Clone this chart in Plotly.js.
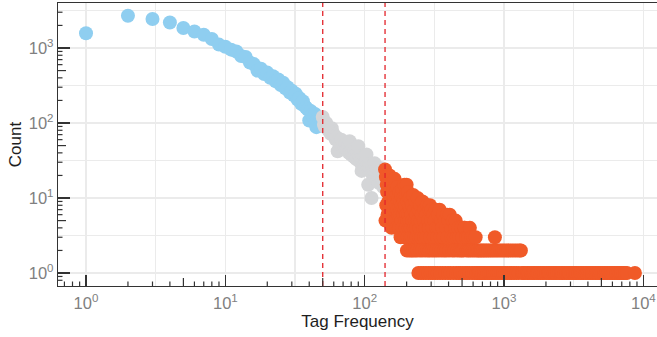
<!DOCTYPE html>
<html><head><meta charset="utf-8">
<script src="https://cdn.plot.ly/plotly-3.0.1.min.js"></script>
<style>html,body{margin:0;padding:0;background:#fff}#chart{width:657px;height:337px}</style>
</head><body><div id="chart"></div>
<script>
// Low-frequency tags (blue)
const lowX = [1,2,3,4,5,6,7,8,9,10,11,12,13,14,15,16,17,18,19,20,21,22,23,24,25,26,27,28,29,30,31,32,33,34,35,36,37,38,39,40,41,42,43,44,45,46,47,48,49];
const lowY = [1570,2690,2440,2190,1850,1660,1500,1320,1110,1040,950,900,780,760,640,610,500,530,450,470,400,420,360,380,320,345,290,300,255,270,235,245,205,215,180,195,170,160,152,108,145,128,118,132,88,112,100,92,106];
// Mid-frequency tags (grey)
const midX = [50,51,52,53,54,55,56,57,58,59,60,61,62,63,64,65,66,67,68,69,70,71,72,73,74,75,76,77,78,79,80,81,82,83,84,85,86,87,88,89,90,91,92,93,94,95,96,97,98,99,100,101,102,103,104,105,106,107,108,109,110,111,112,113,114,115,116,117,118,119,120,121,122,123,124,125,126,127,128,129,130,131,132,133,134,135,136,137,138,139];
const midY = [120,95,88,100,85,80,78,72,85,74,70,66,60,64,42,58,55,52,60,50,54,48,46,52,45,44,50,40,57,42,38,44,40,36,42,35,38,33,40,34,49,32,36,30,34,23,33,29,31,28,35,27,30,38,26,28,15,25,27,24,26,22,10,24,21,23,20,22,29,19,21,18,24,19,17,20,16,22,18,17,19,16,25,17,15,18,14,16,20,15];
// High-frequency tags (orange)
const highX = [140,141,142,143,144,145,146,147,148,149,150,151,152,153,154,155,156,157,158,159,160,161,162,163,164,165,166,167,168,169,170,171,172,173,174,175,176,177,178,179,180,181,182,183,184,185,186,187,188,189,190,191,192,193,194,195,196,197,198,199,200,
201,202,203,204,205,206,207,208,209,210,211,212,213,214,215,216,217,218,219,220,222,223,225,226,228,229,230,232,233,235,236,238,240,241,243,244,246,247,249,250,252,254,255,257,259,260,262,264,266,267,269,271,273,275,277,279,281,283,285,287,289,291,293,294,296,298,300,302,305,307,309,311,314,316,318,321,323,326,328,331,334,336,339,342,345,348,351,354,357,360,363,366,369,372,376,379,383,386,390,393,397,400,404,408,412,416,420,
425,429,433,437,441,446,450,454,459,463,468,472,477,482,487,492,497,502,507,512,517,523,528,534,540,546,552,558,565,569,576,583,590,597,604,611,618,626,633,641,649,657,665,674,683,692,701,710,720,730,740,751,762,773,785,797,809,822,835,848,860,862,876,890,905,920,936,952,968,985,1002,1020,1038,1057,1076,1096,1116,1137,1158,1180,1203,1226,1250,1274,1298,1322,1349,
1380,1415,1470,1502,1560,1610,1655,1720,1760,1830,1890,1935,2010,2080,2120,2200,2270,2340,2400,2490,2570,2620,2720,2800,2890,2950,3060,3150,3240,3300,3420,3530,3610,3720,3850,3930,4060,4180,4290,4400,4560,4690,4800,4950,5110,5240,5380,5560,5720,5850,6040,6230,6400,6580,6760,6950,7180,7400,7620,8700];
const highY = [24,5,19,8,15,12,6,14,9,17,7,20,10,13,6,11,4,16,8,11,5,13,7,10,18,9,5,12,8,4,11,7,14,9,6,10,4,8,12,6,9,3,7,11,5,8,13,4,7,10,6,9,3,15,7,5,8,4,11,6,15,
2,5,9,3,12,6,4,8,2,5,10,3,7,4,9,2,6,3,8,5,2,11,4,7,3,5,2,9,4,6,3,2,10,5,1,7,3,4,2,8,5,1,3,6,2,9,4,1,5,3,7,2,4,1,6,3,8,2,5,1,4,7,2,8,3,1,5,7,2,4,1,6,3,2,5,1,7,4,2,3,1,6,4,2,7,1,3,5,2,4,1,6,3,2,5,1,4,2,6,3,1,5,2,6,1,4,3,
2,5,1,3,2,4,5,1,3,2,4,1,3,2,1,4,2,3,1,2,4,4,1,3,2,1,3,2,1,4,2,3,1,2,3,1,2,3,1,2,1,2,1,2,1,2,1,2,1,2,1,2,1,2,1,2,1,2,1,2,3,1,2,1,2,1,2,1,2,1,2,1,2,1,2,1,2,1,2,1,2,1,2,1,2,2,1,
1,1,1,1,1,1,1,1,1,1,1,1,1,1,1,1,1,1,1,1,1,1,1,1,1,1,1,1,1,1,1,1,1,1,1,1,1,1,1,1,1,1,1,1,1,1,1,1,1,1,1,1,1,1,1,1,1,1,1,1];

const thresholds = [50, 140];

const xTickVals = [1,10,100,1000,10000];
const xTickText = ['10<sup>0</sup>','10<sup>1</sup>','10<sup>2</sup>','10<sup>3</sup>','10<sup>4</sup>'];
const yTickVals = [1,10,100,1000];
const yTickText = ['10<sup>0</sup>','10<sup>1</sup>','10<sup>2</sup>','10<sup>3</sup>'];
const halfDecades = [3.1623,31.623,316.23,3162.3];
const xShortTicks = [0.7,0.8,0.9,2,3,4,6,7,8,9,20,30,40,60,70,80,90,200,300,400,600,700,800,900,2000,3000,4000,6000,7000,8000,9000];
const xMidTicks = [5,50,500,5000];
const yShortTicks = [0.8,0.9,2,3,4,6,7,8,9,20,30,40,60,70,80,90,200,300,400,600,700,800,900,2000,3000];
const yMidTicks = [5,50,500];

const axisColor = '#333333';
const gridColor = '#ebebeb';
const ms = 14;

const traces = [
  {x: lowX, y: lowY, type:'scatter', mode:'markers', marker:{size:ms, color:'#8FCEF0', line:{width:0}}, hoverinfo:'x+y'},
  {x: midX, y: midY, type:'scatter', mode:'markers', marker:{size:ms, color:'#D4D5D7', line:{width:0}}, hoverinfo:'x+y'},
  {x: highX, y: highY, type:'scatter', mode:'markers', marker:{size:ms, color:'#F05A28', line:{width:0}}, hoverinfo:'x+y'}
];

const shapes = [];
thresholds.forEach(t => shapes.push({type:'line', xref:'x', yref:'paper', x0:t, x1:t, y0:0, y1:1, layer:'above', line:{color:'#E3242B', width:1.3, dash:'5px,4px'}}));
xShortTicks.forEach(v => shapes.push({type:'line', xref:'x', yref:'paper', ysizemode:'pixel', yanchor:0, x0:v, x1:v, y0:0, y1:4.5, layer:'above', line:{color:axisColor, width:1.2}}));
xMidTicks.forEach(v => shapes.push({type:'line', xref:'x', yref:'paper', ysizemode:'pixel', yanchor:0, x0:v, x1:v, y0:0, y1:8, layer:'above', line:{color:axisColor, width:1.2}}));
yShortTicks.forEach(v => shapes.push({type:'line', xref:'paper', yref:'y', xsizemode:'pixel', xanchor:0, x0:0, x1:4.5, y0:v, y1:v, layer:'above', line:{color:axisColor, width:1.2}}));
yMidTicks.forEach(v => shapes.push({type:'line', xref:'paper', yref:'y', xsizemode:'pixel', xanchor:0, x0:0, x1:8, y0:v, y1:v, layer:'above', line:{color:axisColor, width:1.2}}));

const font = 'Liberation Sans, Arial, Helvetica, sans-serif';
const layout = {
  width:657, height:337,
  margin:{l:58, r:0, t:3, b:51},
  paper_bgcolor:'#ffffff', plot_bgcolor:'#ffffff',
  showlegend:false,
  font:{family:font, color:'#222'},
  xaxis:{
    type:'log', range:[-0.201, 4.098], autorange:false,
    tickmode:'array', tickvals:xTickVals, ticktext:xTickText,
    ticks:'inside', ticklen:11, tickwidth:1.2, tickcolor:axisColor,
    showline:true, linecolor:axisColor, linewidth:1.2, mirror:true,
    showgrid:true, gridcolor:gridColor, gridwidth:1.1, zeroline:false,
    tickfont:{family:font, size:16.5, color:'#808080'}, ticklabelstandoff:2,
    minor:{tickmode:'array', tickvals:halfDecades, ticks:'', showgrid:true, gridcolor:gridColor, gridwidth:1.1},
    title:{text:'Tag Frequency', font:{family:font, size:17, color:'#1e1e1e'}, standoff:4},
    automargin:false
  },
  yaxis:{
    type:'log', range:[-0.173, 3.6], autorange:false,
    tickmode:'array', tickvals:yTickVals, ticktext:yTickText,
    ticks:'inside', ticklen:11.5, tickwidth:1.2, tickcolor:axisColor,
    showline:true, linecolor:axisColor, linewidth:1.2, mirror:false,
    showgrid:true, gridcolor:gridColor, gridwidth:1.1, zeroline:false,
    tickfont:{family:font, size:16.5, color:'#808080'},
    minor:{tickmode:'array', tickvals:halfDecades, ticks:'', showgrid:true, gridcolor:gridColor, gridwidth:1.1},
    title:{text:'Count', font:{family:font, size:17, color:'#1e1e1e'}, standoff:2},
    automargin:false
  },
  shapes: shapes
};

Plotly.newPlot('chart', traces, layout, {displayModeBar:false, staticPlot:true});
</script>
</body></html>
